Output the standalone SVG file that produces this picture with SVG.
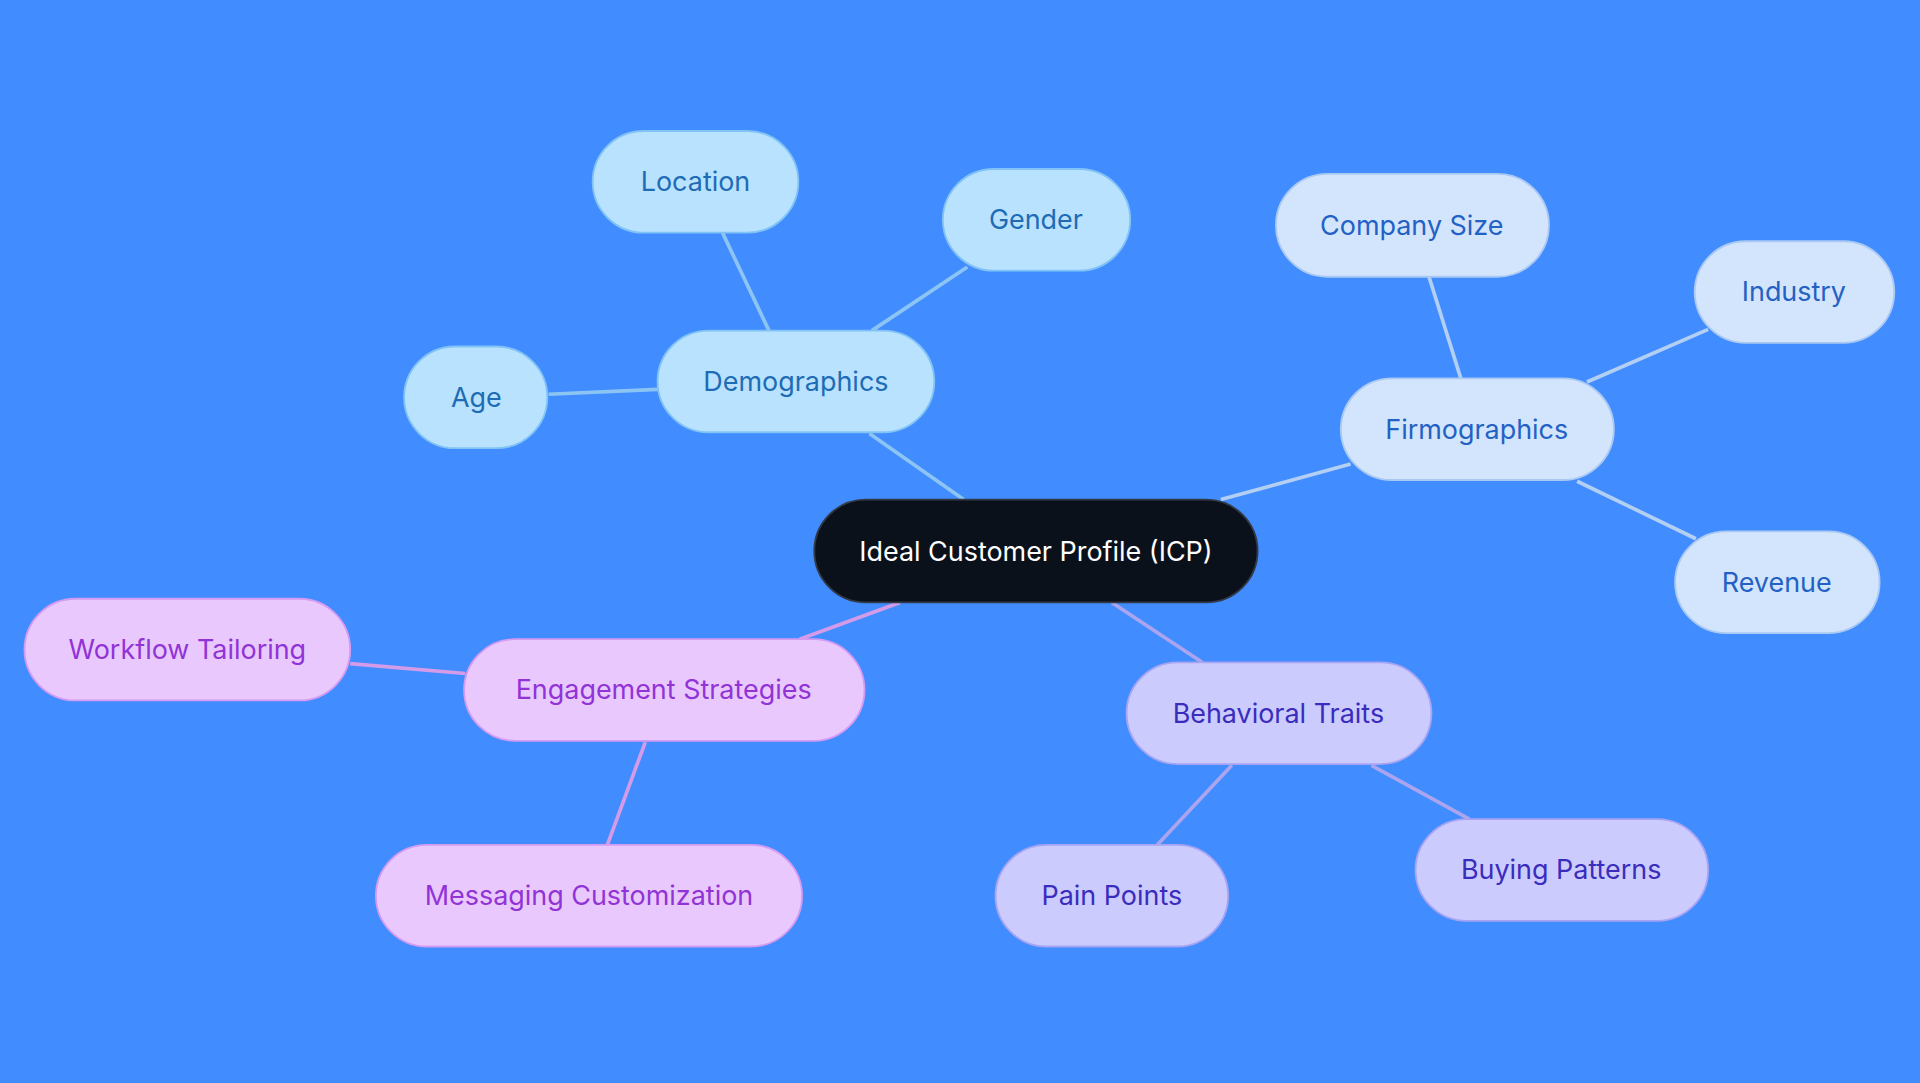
<svg xmlns="http://www.w3.org/2000/svg" width="1920" height="1083" viewBox="0 0 1920 1083">
<style>
text{font-family:Inter,"Noto Sans",sans-serif;font-size:22px;text-anchor:middle;dominant-baseline:central}
.d rect{fill:#b9e2fe;stroke:#82c3f5;stroke-width:1.5}.d text{fill:#1d6cb5}
.f rect{fill:#d3e5fc;stroke:#a9c9f3;stroke-width:1.5}.f text{fill:#2361c4}
.b rect{fill:#cbcbfd;stroke:#a6a4f3;stroke-width:1.5}.b text{fill:#3a2cbd}
.e rect{fill:#e9c9fd;stroke:#d49bf2;stroke-width:1.5}.e text{fill:#9133d6}
.cd{stroke:#8cc4f3;stroke-width:3}.cf{stroke:#b3cff3;stroke-width:3}.cb{stroke:#aaa5ee;stroke-width:3}.ce{stroke:#d49be8;stroke-width:3}
</style>
<rect width="1920" height="1083" fill="#418cff"/>
<g transform="scale(1.22449)">
<g id="connectors" fill="none">
<line class="cd" x1="710" y1="354" x2="787" y2="408"/>
<line class="cd" x1="590" y1="190" x2="628" y2="270"/>
<line class="cd" x1="790" y1="218" x2="712" y2="270"/>
<line class="cd" x1="448" y1="322" x2="537" y2="318"/>
<line class="cf" x1="997" y1="408" x2="1103" y2="379"/>
<line class="cf" x1="1167" y1="226" x2="1193" y2="309"/>
<line class="cf" x1="1395" y1="269" x2="1296" y2="312"/>
<line class="cf" x1="1288" y1="393" x2="1385" y2="440"/>
<line class="cb" x1="908" y1="492" x2="982" y2="541"/>
<line class="cb" x1="1006" y1="625" x2="945" y2="690"/>
<line class="cb" x1="1120" y1="625" x2="1200" y2="669"/>
<line class="ce" x1="735" y1="492" x2="653" y2="522"/>
<line class="ce" x1="286" y1="542" x2="380" y2="550"/>
<line class="ce" x1="527" y1="606" x2="496" y2="690"/>
</g>
<g id="center"><rect x="665" y="408" width="362" height="84" rx="42" fill="#0b111b" stroke="#333a48" stroke-width="1.5"/><text x="846" y="450" fill="#fff">Ideal Customer Profile (ICP)</text></g>
<g id="demographics" class="d"><rect x="537" y="270" width="226" height="83" rx="41.5"/><text x="650" y="311">Demographics</text></g>
<g id="location" class="d"><rect x="484" y="107" width="168" height="83" rx="41.5"/><text x="568" y="148">Location</text></g>
<g id="gender" class="d"><rect x="770" y="138" width="153" height="83" rx="41.5"/><text x="846" y="179">Gender</text></g>
<g id="age" class="d"><rect x="330" y="283" width="117" height="83" rx="41.5"/><text x="389" y="324">Age</text></g>
<g id="firmographics" class="f"><rect x="1095" y="309" width="223" height="83" rx="41.5"/><text x="1206" y="350">Firmographics</text></g>
<g id="companysize" class="f"><rect x="1042" y="142" width="223" height="84" rx="42"/><text x="1153" y="184">Company Size</text></g>
<g id="industry" class="f"><rect x="1384" y="197" width="163" height="83" rx="41.5"/><text x="1465" y="238">Industry</text></g>
<g id="revenue" class="f"><rect x="1368" y="434" width="167" height="83" rx="41.5"/><text x="1451" y="475">Revenue</text></g>
<g id="behavioral" class="b"><rect x="920" y="541" width="249" height="83" rx="41.5"/><text x="1044" y="582">Behavioral Traits</text></g>
<g id="painpoints" class="b"><rect x="813" y="690" width="190" height="83" rx="41.5"/><text x="908" y="731">Pain Points</text></g>
<g id="buying" class="b"><rect x="1156" y="669" width="239" height="83" rx="41.5"/><text x="1275" y="710">Buying Patterns</text></g>
<g id="engagement" class="e"><rect x="379" y="522" width="327" height="83" rx="41.5"/><text x="542" y="563">Engagement Strategies</text></g>
<g id="workflow" class="e"><rect x="20" y="489" width="266" height="83" rx="41.5"/><text x="153" y="530">Workflow Tailoring</text></g>
<g id="messaging" class="e"><rect x="307" y="690" width="348" height="83" rx="41.5"/><text x="481" y="731">Messaging Customization</text></g>
</g>
</svg>
